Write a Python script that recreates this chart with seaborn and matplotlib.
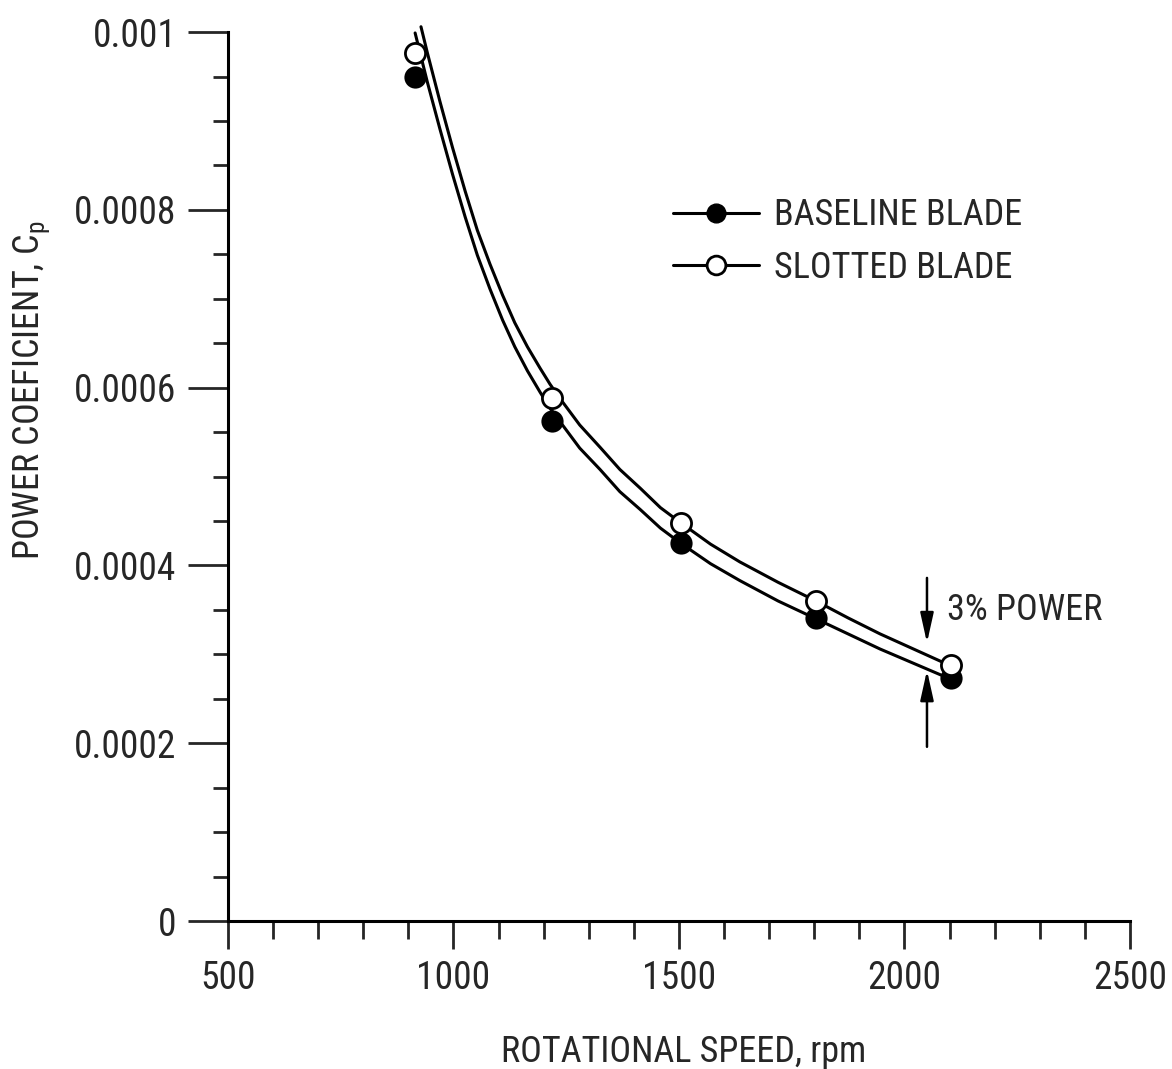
import numpy as np
import pandas as pd
import matplotlib
matplotlib.use('Agg')
import matplotlib.pyplot as plt
from matplotlib import font_manager as fm
from matplotlib.lines import Line2D
from matplotlib.ticker import FixedLocator, MultipleLocator
import seaborn as sns

# measured points (rpm, Cp)
rpm_pts = [915, 1218, 1505, 1804, 2103]
cp_baseline = [9.49e-4, 5.62e-4, 4.25e-4, 3.41e-4, 2.73e-4]
cp_slotted = [9.76e-4, 5.88e-4, 4.48e-4, 3.60e-4, 2.88e-4]

# faired curves
base_curve_rpm = [915, 942, 970, 998, 1026, 1053, 1081, 1109, 1136, 1164, 1192, 1214,
                  1236, 1280, 1325, 1369, 1414, 1459, 1504, 1570, 1635, 1720, 1804,
                  1875, 1946, 2103]
base_curve_cp = [9.99e-4, 9.44e-4, 8.91e-4, 8.40e-4, 7.92e-4, 7.49e-4, 7.11e-4, 6.76e-4,
                 6.46e-4, 6.19e-4, 5.95e-4, 5.77e-4, 5.62e-4, 5.32e-4, 5.08e-4, 4.83e-4,
                 4.63e-4, 4.42e-4, 4.25e-4, 4.02e-4, 3.83e-4, 3.60e-4, 3.40e-4, 3.23e-4,
                 3.06e-4, 2.72e-4]
slot_curve_rpm = [928, 942, 970, 998, 1026, 1053, 1081, 1109, 1136, 1164, 1192, 1214,
                  1236, 1280, 1325, 1369, 1414, 1459, 1504, 1570, 1635, 1720, 1804,
                  1875, 1946, 2103]
slot_curve_cp = [10.06e-4, 9.77e-4, 9.22e-4, 8.70e-4, 8.21e-4, 7.77e-4, 7.39e-4, 7.04e-4,
                 6.73e-4, 6.46e-4, 6.22e-4, 6.04e-4, 5.88e-4, 5.58e-4, 5.33e-4, 5.08e-4,
                 4.87e-4, 4.65e-4, 4.48e-4, 4.24e-4, 4.04e-4, 3.81e-4, 3.60e-4, 3.41e-4,
                 3.23e-4, 2.87e-4]

x_ticks = [500, 1000, 1500, 2000, 2500]
x_labels = ['500', '1000', '1500', '2000', '2500']
y_ticks = [0, 0.0002, 0.0004, 0.0006, 0.0008, 0.001]
y_labels = ['0', '0.0002', '0.0004', '0.0006', '0.0008', '0.001']

series_names = ['BASELINE BLADE', 'SLOTTED BLADE']

sns.set_style('ticks')

# look for a narrow sans face, the original lettering is condensed
narrow_file = None
regular = [f for f in fm.fontManager.ttflist
           if f.style == 'normal' and f.weight in (400, 'normal', 'regular')]
for want in ['Liberation Sans Narrow', 'Roboto Condensed', 'DejaVu Sans Condensed',
             'Open Sans Condensed', 'Noto Sans Condensed']:
    for f in regular:
        if f.name == want:
            narrow_file = f.fname
            break
    if narrow_file:
        break
if narrow_file is None:
    for f in regular:
        low = f.fname.lower()
        if ('condensed' in low or 'narrow' in low) and 'semi' not in low and 'extra' not in low:
            narrow_file = f.fname
            break

if narrow_file:
    tick_size, text_size = 27, 26
    def fp(size):
        return fm.FontProperties(fname=narrow_file, size=size)
else:
    tick_size, text_size = 25, 22
    def fp(size):
        return fm.FontProperties(family=['Liberation Sans', 'DejaVu Sans'], size=size)

plt.rcParams['font.family'] = ['Liberation Sans', 'DejaVu Sans']
plt.rcParams['mathtext.default'] = 'regular'

fig = plt.figure(figsize=(11.72, 10.69), dpi=100)
ax = fig.add_axes([0.1945, 0.1384, 0.7696, 0.8316])

lw = 2.2
curves = pd.DataFrame({
    'rpm': base_curve_rpm + slot_curve_rpm,
    'cp': base_curve_cp + slot_curve_cp,
    'blade': [series_names[0]] * len(base_curve_rpm) + [series_names[1]] * len(slot_curve_rpm),
})
sns.lineplot(data=curves, x='rpm', y='cp', units='blade', estimator=None, sort=False,
             color='black', linewidth=lw, ax=ax, legend=False, clip_on=False, zorder=2)

sns.scatterplot(x=rpm_pts, y=cp_baseline, marker='o', s=210, color='black',
                edgecolor='black', linewidth=1.5, ax=ax, zorder=3, clip_on=False)
sns.scatterplot(x=rpm_pts, y=cp_slotted, marker='o', s=210, color='white',
                edgecolor='black', linewidth=2, ax=ax, zorder=4, clip_on=False)

# 3% power arrows
arrow_kw = dict(arrowstyle='-|>,head_length=0.9,head_width=0.2', color='black',
                lw=1.8, shrinkA=0, shrinkB=0, mutation_scale=20)
ax.annotate('', xy=(2050, 3.13e-4), xytext=(2050, 3.86e-4), arrowprops=arrow_kw)
ax.annotate('', xy=(2050, 2.82e-4), xytext=(2050, 1.96e-4), arrowprops=arrow_kw)
ax.text(2094, 3.50e-4, '3% POWER', ha='left', va='center', fontproperties=fp(text_size))

ax.set_xlim(500, 2500)
ax.set_ylim(0, 0.001)
ax.xaxis.set_major_locator(FixedLocator(x_ticks))
ax.set_xticklabels(x_labels)
ax.xaxis.set_minor_locator(MultipleLocator(100))
ax.yaxis.set_major_locator(FixedLocator(y_ticks))
ax.set_yticklabels(y_labels)
ax.yaxis.set_minor_locator(MultipleLocator(0.00005))

ax.tick_params(axis='x', which='major', length=20, width=2, pad=8, direction='out')
ax.tick_params(axis='x', which='minor', length=13, width=2, direction='out')
ax.tick_params(axis='y', which='major', length=29, width=2, pad=8, direction='out')
ax.tick_params(axis='y', which='minor', length=11, width=2, direction='out')
for lbl in ax.get_xticklabels() + ax.get_yticklabels():
    lbl.set_fontproperties(fp(tick_size))

sns.despine(ax=ax)
for side in ['left', 'bottom']:
    ax.spines[side].set_linewidth(2.2)
    ax.spines[side].set_color('black')

ax.set_xlabel('ROTATIONAL SPEED, rpm', fontproperties=fp(text_size))
ax.set_ylabel('POWER COEFICIENT, C$_{p}$', fontproperties=fp(text_size))
ax.xaxis.label.set_verticalalignment('center')
ax.xaxis.set_label_coords(0.505, -0.147)
ax.yaxis.set_label_coords(-0.195, 0.597)

handles = [
    Line2D([], [], color='black', lw=lw, marker='o', markersize=13.5,
           markerfacecolor='black', markeredgecolor='black'),
    Line2D([], [], color='black', lw=lw, marker='o', markersize=13.5,
           markerfacecolor='white', markeredgecolor='black', markeredgewidth=2),
]
ax.legend(handles, series_names, loc='upper left', bbox_to_anchor=(0.493, 0.814),
          frameon=False, prop=fp(text_size), borderpad=0, borderaxespad=0,
          handlelength=2.4, handletextpad=0.42, labelspacing=0.45)

fig.savefig('out.png', dpi=100)
